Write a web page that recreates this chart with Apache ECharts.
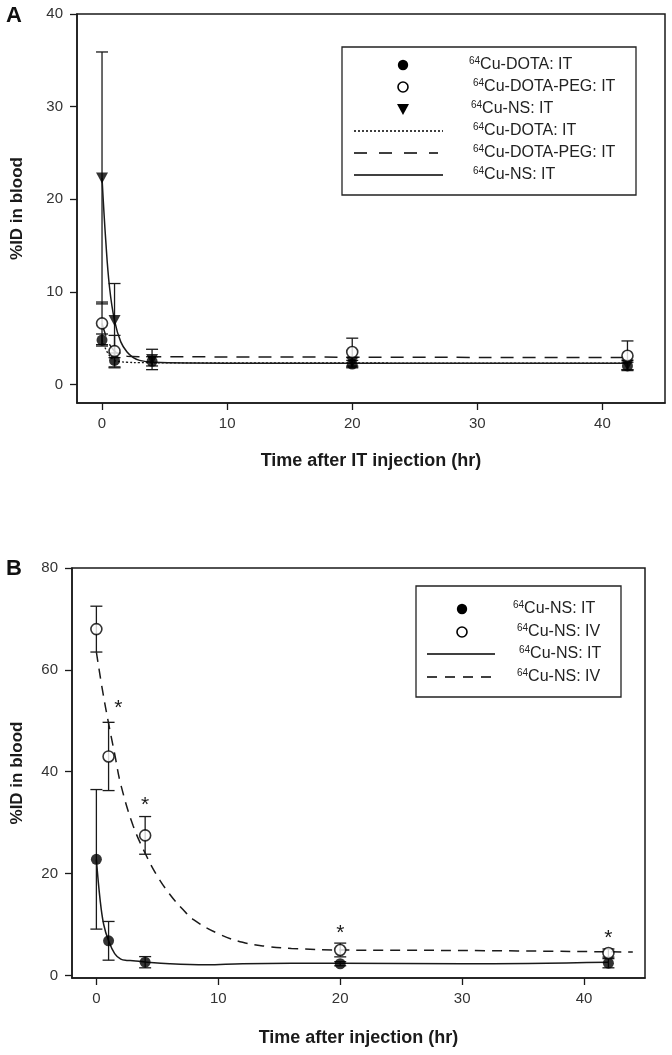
<!DOCTYPE html>
<html>
<head>
<meta charset="utf-8">
<script src="https://cdn.jsdelivr.net/npm/echarts@6/dist/echarts.min.js"></script>
<style>
html,body{margin:0;padding:0;background:#fff;}
#chart{width:672px;height:1055px;}
</style>
</head>
<body>
<div id="chart"></div>
<script>
// ---------- Panel A data ----------
const timesA = [0, 1, 4, 20, 42];
const dotaIT = [4.8, 2.6, 2.5, 2.2, 2.0];
const dotaErr = [0.65, 0.8, 0.5, 0.4, 0.4];
const pegIT = [6.6, 3.6, null, 3.5, 3.1];
const pegErr = [2.3, 1.7, null, 1.5, 1.6];
const nsIT_A = [22.3, 6.9, 2.7, 2.4, 2.1];
const nsErr_A = [13.6, 4.0, 1.1, 0.5, 0.5];

const dotaFitT = [0, 0.5, 1, 1.5, 2, 3, 42];
const dotaFitV = [4.8, 3.3, 2.6, 2.45, 2.4, 2.35, 2.3];
const pegFitT = [0, 0.5, 1, 1.5, 2, 3, 42];
const pegFitV = [6.6, 4.6, 3.6, 3.2, 3.05, 3.0, 2.9];
const nsFitT_A = [0, 0.3, 0.6, 1, 1.5, 2, 2.5, 3, 4, 10, 20, 42];
const nsFitV_A = [22.3, 15.5, 10.5, 6.9, 4.6, 3.5, 2.9, 2.6, 2.4, 2.3, 2.3, 2.3];

// ---------- Panel B data ----------
const timesB = [0, 1, 4, 20, 42];
const nsIT_B = [22.8, 6.8, 2.6, 2.3, 2.4];
const nsErrIT_B = [13.7, 3.8, 1.1, 0.4, 0.9];
const nsIV_B = [68, 43, 27.5, 5.0, 4.4];
const nsErrIV_B = [4.5, 6.7, 3.7, 1.35, 0.8];
const starT = [1.8, 4, 20, 42];
const starV = [52.5, 33.5, 8.2, 7.4];

const itFitT_B = [0, 0.3, 0.6, 1, 1.5, 2, 2.5, 3, 4, 6, 9, 12, 20, 30, 42];
const itFitV_B = [22.8, 15, 10, 6.8, 4.3, 3.2, 2.95, 2.9, 2.65, 2.3, 2.1, 2.3, 2.4, 2.3, 2.6];
const ivFitT_B = [0, 0.5, 1, 1.5, 2, 3, 4, 5, 6, 7, 8, 10, 12, 14, 16, 20, 30, 44];
const ivFitV_B = [63.5, 56, 49.5, 43.5, 37.5, 29.5, 24, 19.5, 16, 13.2, 10.9, 8.2, 6.5, 5.7, 5.3, 5.0, 4.9, 4.6];

// tick labels
const xTicks = [0, 10, 20, 30, 40];
const yTicksA = [0, 10, 20, 30, 40];
const yTicksB = [0, 20, 40, 60, 80];

const FONT = '"Liberation Sans", Arial, sans-serif';
const INK = '#1a1a1a';

function pairs(t, v) { return t.map((x, i) => [x, v[i]]).filter(p => p[1] != null); }
function errs(t, v, e) { return t.map((x, i) => v[i] == null ? null : [x, v[i] - e[i], v[i] + e[i]]).filter(Boolean); }

function renderErr(params, api) {
  const x = api.value(0), lo = api.value(1), hi = api.value(2);
  const p1 = api.coord([x, lo]), p2 = api.coord([x, hi]);
  const w = 6;
  const st = { stroke: INK, lineWidth: 1.3 };
  return { type: 'group', children: [
    { type: 'line', shape: { x1: p1[0], y1: p1[1], x2: p2[0], y2: p2[1] }, style: st },
    { type: 'line', shape: { x1: p1[0] - w, y1: p1[1], x2: p1[0] + w, y2: p1[1] }, style: st },
    { type: 'line', shape: { x1: p2[0] - w, y1: p2[1], x2: p2[0] + w, y2: p2[1] }, style: st }
  ]};
}
function renderStar(params, api) {
  const p = api.coord([api.value(0), api.value(1)]);
  return { type: 'text', x: p[0], y: p[1],
    style: { text: '*', fontSize: 21, fontFamily: FONT, fill: INK, align: 'center', verticalAlign: 'middle' } };
}

function axisX(gi, name, gap) {
  return {
    type: 'value', gridIndex: gi, min: -2, max: 45,
    name: name, nameLocation: 'middle', nameGap: gap,
    nameTextStyle: { fontFamily: FONT, fontWeight: 'bold', fontSize: 18, color: INK },
    axisLine: { show: true, onZero: false, lineStyle: { color: INK, width: 1.5 } },
    axisTick: { show: true, length: 7, customValues: xTicks, lineStyle: { color: INK, width: 1.3 } },
    axisLabel: { customValues: xTicks, margin: 13, fontFamily: FONT, fontSize: 15, color: '#333' },
    splitLine: { show: false }
  };
}
function axisY(gi, min, max, ticks, gap) {
  return {
    type: 'value', gridIndex: gi, min: min, max: max,
    name: '%ID in blood', nameLocation: 'middle', nameGap: gap,
    nameTextStyle: { fontFamily: FONT, fontWeight: 'bold', fontSize: 17, color: INK },
    axisLine: { show: true, onZero: false, lineStyle: { color: INK, width: 1.5 } },
    axisTick: { show: true, length: 7, customValues: ticks, lineStyle: { color: INK, width: 1.3 } },
    axisLabel: { customValues: ticks, margin: 14, fontFamily: FONT, fontSize: 15, color: '#333' },
    splitLine: { show: false }
  };
}

function line(gi, data, type, width) {
  return { type: 'line', xAxisIndex: gi, yAxisIndex: gi, data: data, showSymbol: false,
    smooth: 0.4, silent: true, z: 3,
    lineStyle: { color: INK, width: width, type: type } };
}
function scatter(gi, data, kind) {
  const s = { type: 'scatter', xAxisIndex: gi, yAxisIndex: gi, data: data, z: 5, symbolSize: 11 };
  if (kind === 'filled') { s.symbol = 'circle'; s.itemStyle = { color: '#000' }; }
  else if (kind === 'open') { s.symbol = 'circle'; s.itemStyle = { color: '#fff', borderColor: '#000', borderWidth: 1.6 }; }
  else { s.symbol = 'triangle'; s.symbolRotate = 180; s.symbolSize = [12, 11]; s.itemStyle = { color: '#000' }; }
  return s;
}
function errSeries(gi, data) {
  return { type: 'custom', xAxisIndex: gi, yAxisIndex: gi, data: data, renderItem: renderErr, z: 2, silent: true };
}

// ----- legends (graphic) -----
const lgTxt = (x, y, label) => ({
  type: 'text', x: x, y: y, z: 20,
  style: {
    text: '{s|64}{n|' + label + '}', verticalAlign: 'middle',
    rich: {
      s: { fontSize: 10, fontFamily: FONT, fill: '#222', verticalAlign: 'top', padding: [0, 0, 7, 0] },
      n: { fontSize: 16, fontFamily: FONT, fill: '#222' }
    }
  }
});
const dotSym = (x, y) => ({ type: 'circle', z: 20, shape: { cx: x, cy: y, r: 5.2 }, style: { fill: '#000' } });
const openSym = (x, y) => ({ type: 'circle', z: 20, shape: { cx: x, cy: y, r: 5 }, style: { fill: '#fff', stroke: '#000', lineWidth: 1.6 } });
const triSym = (x, y) => ({ type: 'polygon', z: 20, shape: { points: [[x - 6, y - 5], [x + 6, y - 5], [x, y + 6]] }, style: { fill: '#000' } });
const lnSym = (x1, x2, y, dash, w) => {
  const st = { stroke: '#000', lineWidth: w };
  if (dash) st.lineDash = dash;
  return { type: 'line', z: 20, shape: { x1: x1, y1: y, x2: x2, y2: y }, style: st };
};

const graphics = [
  { type: 'text', left: 6, top: 5, style: { text: 'A', fontSize: 22, fontWeight: 'bold', fontFamily: FONT, fill: '#111' } },
  { type: 'text', left: 6, top: 558, style: { text: 'B', fontSize: 22, fontWeight: 'bold', fontFamily: FONT, fill: '#111' } },
  // legend A
  { type: 'rect', z: 15, shape: { x: 342, y: 47, width: 294, height: 148 }, style: { fill: '#fff', stroke: '#222', lineWidth: 1.3 } },
  dotSym(403, 65), openSym(403, 87), triSym(403, 109),
  lnSym(354, 443, 131, [2, 2], 1.3), lnSym(354, 438, 153, [13, 12], 1.5), lnSym(354, 443, 175, null, 1.5),
  lgTxt(469, 65, 'Cu-DOTA: IT'), lgTxt(473, 87, 'Cu-DOTA-PEG: IT'), lgTxt(471, 109, 'Cu-NS: IT'),
  lgTxt(473, 131, 'Cu-DOTA: IT'), lgTxt(473, 153, 'Cu-DOTA-PEG: IT'), lgTxt(473, 175, 'Cu-NS: IT'),
  // legend B
  { type: 'rect', z: 15, shape: { x: 416, y: 586, width: 205, height: 111 }, style: { fill: '#fff', stroke: '#222', lineWidth: 1.3 } },
  dotSym(462, 609), openSym(462, 632),
  lnSym(427, 495, 654, null, 1.5), lnSym(427, 491, 677, [10, 8], 1.5),
  lgTxt(513, 609, 'Cu-NS: IT'), lgTxt(517, 632, 'Cu-NS: IV'), lgTxt(519, 654, 'Cu-NS: IT'), lgTxt(517, 677, 'Cu-NS: IV')
];

const option = {
  animation: false,
  backgroundColor: '#fff',
  grid: [
    { left: 77, top: 14, width: 588, height: 389, show: true, borderColor: INK, borderWidth: 1.5, backgroundColor: 'transparent' },
    { left: 72, top: 568, width: 573, height: 410, show: true, borderColor: INK, borderWidth: 1.5, backgroundColor: 'transparent' }
  ],
  xAxis: [axisX(0, 'Time after IT injection (hr)', 49), axisX(1, 'Time after injection (hr)', 51)],
  yAxis: [axisY(0, -2, 40, yTicksA, 51), axisY(1, -0.5, 80, yTicksB, 46)],
  series: [
    errSeries(0, errs(timesA, dotaIT, dotaErr)),
    errSeries(0, errs(timesA, pegIT, pegErr)),
    errSeries(0, errs(timesA, nsIT_A, nsErr_A)),
    line(0, pairs(dotaFitT, dotaFitV), [2, 2], 1.3),
    line(0, pairs(pegFitT, pegFitV), [13, 9], 1.5),
    line(0, pairs(nsFitT_A, nsFitV_A), 'solid', 1.5),
    scatter(0, pairs(timesA, dotaIT), 'filled'),
    scatter(0, pairs(timesA, nsIT_A), 'tri'),
    scatter(0, pairs(timesA, pegIT), 'open'),

    errSeries(1, errs(timesB, nsIT_B, nsErrIT_B)),
    errSeries(1, errs(timesB, nsIV_B, nsErrIV_B)),
    line(1, pairs(itFitT_B, itFitV_B), 'solid', 1.5),
    line(1, pairs(ivFitT_B, ivFitV_B), [10, 7], 1.5),
    scatter(1, pairs(timesB, nsIT_B), 'filled'),
    scatter(1, pairs(timesB, nsIV_B), 'open'),
    { type: 'custom', xAxisIndex: 1, yAxisIndex: 1, data: pairs(starT, starV), renderItem: renderStar, z: 6, silent: true }
  ],
  graphic: graphics
};

const chart = echarts.init(document.getElementById('chart'), null, { renderer: 'canvas' });
chart.setOption(option);
</script>
</body>
</html>
